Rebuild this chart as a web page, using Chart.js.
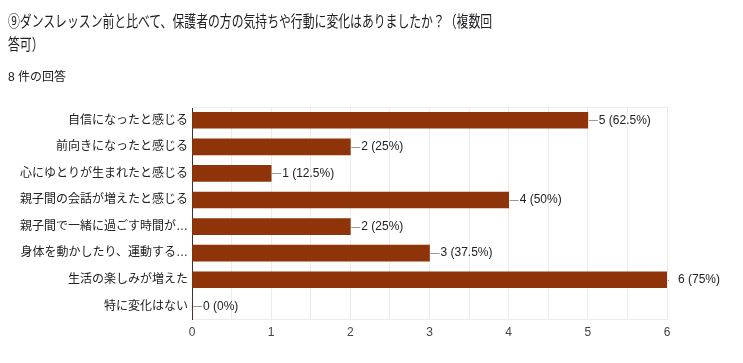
<!DOCTYPE html>
<html>
<head>
<meta charset="utf-8">
<script src="https://cdn.jsdelivr.net/npm/chart.js@4"></script>
<style>
body { margin: 0; background: #fff; }
#wrap { position: relative; width: 743px; height: 363px; }
#title { position: absolute; left: 8px; top: 10px; white-space: nowrap; font: 16px 'Liberation Sans', Arial, 'Noto Sans CJK JP'; line-height: 23px; color: #202124; transform: scaleX(0.74); transform-origin: left top; }
#sub { position: absolute; left: 8px; top: 67px; font: 12px 'Liberation Sans', Arial, 'Noto Sans CJK JP'; color: #202124; }
canvas { position: absolute; left: 0; top: 0; }
</style>
</head>
<body>
<div id="wrap">
  <canvas id="chartCanvas" width="743" height="363"></canvas>
  <div id="title">⑨ダンスレッスン前と比べて、保護者の方の気持ちや行動に変化はありましたか？（複数回<br>答可）</div>
  <div id="sub">8 件の回答</div>
</div>
<script>
//Chart data
const answerLabels = ['自信になったと感じる', '前向きになったと感じる', '心にゆとりが生まれたと感じる', '親子間の会話が増えたと感じる',
    '親子間で一緒に過ごす時間が…', '身体を動かしたり、運動する…', '生活の楽しみが増えた', '特に変化はない']
const answerCounts = [5, 2, 1, 4, 2, 3, 6, 0]
const answerPercents = ['62.5%', '25%', '12.5%', '50%', '25%', '37.5%', '75%', '0%']
const axisMax = 6

const fontFamily = "'Liberation Sans', Arial, 'Noto Sans CJK JP'"

//Draws the leader line + "n (p%)" label next to each bar, and the plot top border
const valueLabels = {
    id: 'valueLabels',
    afterDatasetsDraw(chart) {
        const ctx = chart.ctx
        const area = chart.chartArea
        ctx.save()
        ctx.strokeStyle = '#ebebeb'
        ctx.lineWidth = 1
        ctx.beginPath()
        ctx.moveTo(area.left, area.top + 0.5)
        ctx.lineTo(area.right, area.top + 0.5)
        ctx.stroke()

        ctx.font = '12px ' + fontFamily
        ctx.textBaseline = 'middle'
        ctx.fillStyle = '#222'
        chart.getDatasetMeta(0).data.forEach((bar, i) => {
            const y = Math.round(bar.y) + 0.5
            const lineLen = answerCounts[i] === axisMax ? 2 : 10
            ctx.strokeStyle = '#999'
            ctx.beginPath()
            ctx.moveTo(bar.x + 1, y)
            ctx.lineTo(bar.x + lineLen, y)
            ctx.stroke()
            ctx.fillText(answerCounts[i] + ' (' + answerPercents[i] + ')', bar.x + 11, bar.y)
        })
        ctx.restore()
    }
}

new Chart(document.getElementById('chartCanvas'), {
    type: 'bar',
    data: {
        labels: answerLabels,
        datasets: [{
            data: answerCounts,
            backgroundColor: '#8f3309',
            barThickness: 16
        }]
    },
    options: {
        indexAxis: 'y',
        responsive: false,
        animation: false,
        layout: { padding: { top: 107, right: 76, bottom: 17, left: 0 } },
        scales: {
            x: {
                min: 0,
                max: axisMax,
                ticks: {
                    stepSize: 0.5,
                    padding: 6,
                    color: '#444',
                    font: { size: 12, family: fontFamily },
                    callback: v => Number.isInteger(v) ? v : ''
                },
                grid: { color: '#ebebeb', drawTicks: false },
                border: { color: '#ebebeb' }
            },
            y: {
                afterFit: scale => { scale.width = 192 },
                ticks: {
                    padding: 4,
                    color: '#222',
                    font: { size: 12, family: fontFamily }
                },
                grid: { display: false, drawTicks: false },
                border: { color: '#333' }
            }
        },
        plugins: {
            legend: { display: false },
            tooltip: { enabled: false }
        }
    },
    plugins: [valueLabels]
})
</script>
</body>
</html>
